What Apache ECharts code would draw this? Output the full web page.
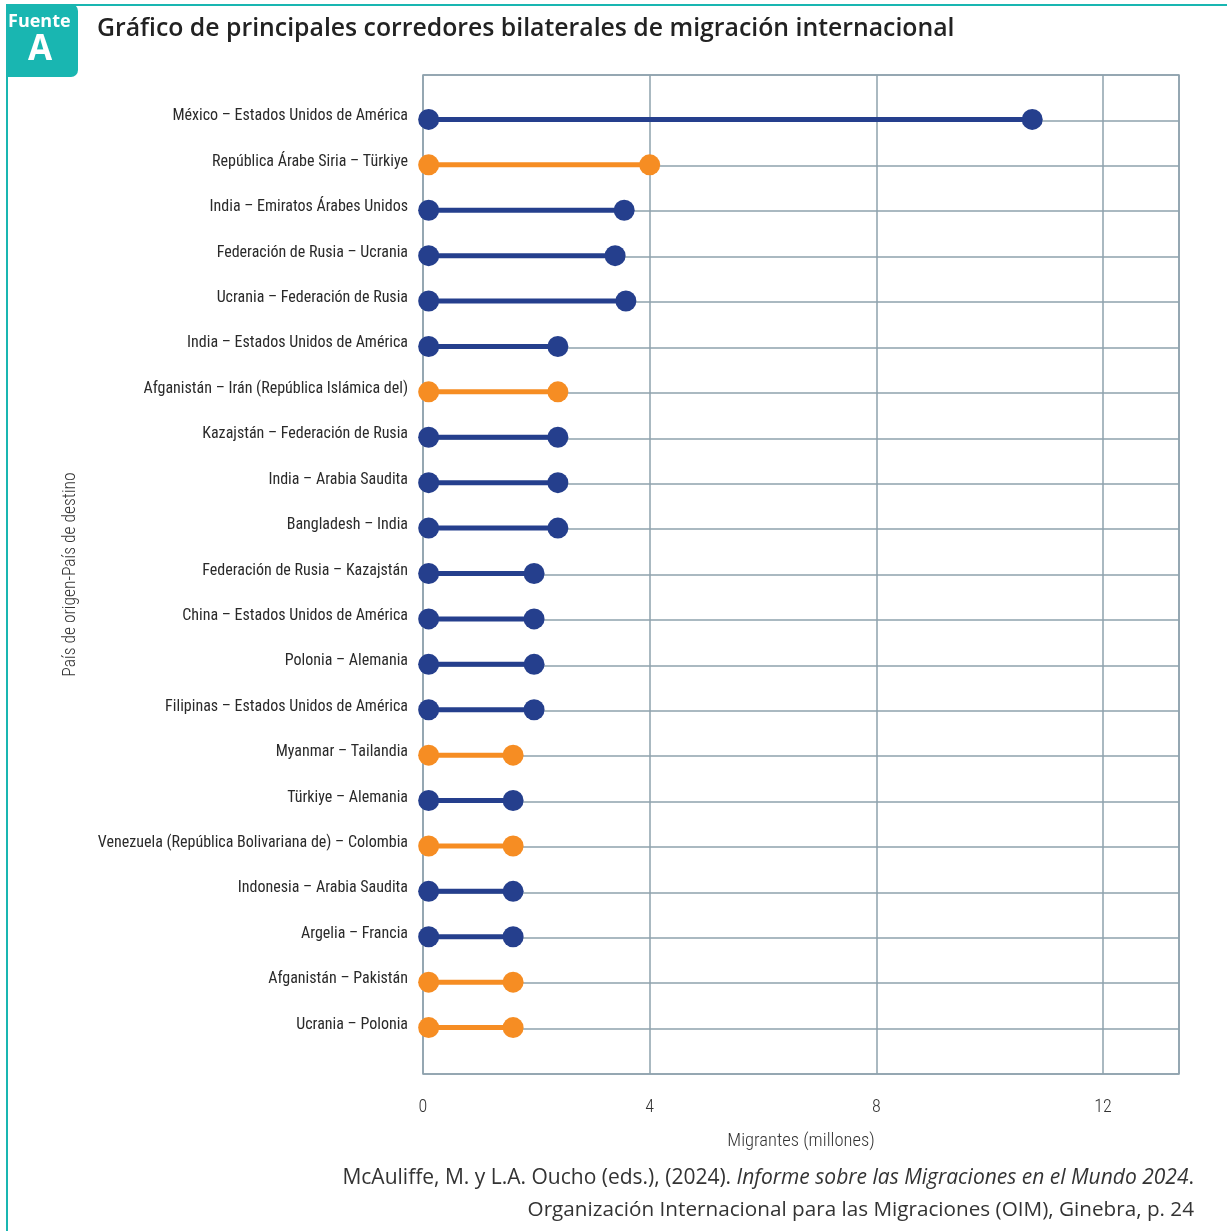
<!DOCTYPE html>
<html><head><meta charset="utf-8">
<script src="https://cdn.jsdelivr.net/npm/echarts@6/dist/echarts.min.js"></script>
<style>html,body{margin:0;padding:0;background:#fff}#c{width:1227px;height:1231px}</style>
</head><body><div id="c"></div>
<script>
const categories = [
  'México – Estados Unidos de América',
  'República Árabe Siria – Türkiye',
  'India – Emiratos Árabes Unidos',
  'Federación de Rusia – Ucrania',
  'Ucrania – Federación de Rusia',
  'India – Estados Unidos de América',
  'Afganistán – Irán (República Islámica del)',
  'Kazajstán – Federación de Rusia',
  'India – Arabia Saudita',
  'Bangladesh – India',
  'Federación de Rusia – Kazajstán',
  'China – Estados Unidos de América',
  'Polonia – Alemania',
  'Filipinas – Estados Unidos de América',
  'Myanmar – Tailandia',
  'Türkiye – Alemania',
  'Venezuela (República Bolivariana de) – Colombia',
  'Indonesia – Arabia Saudita',
  'Argelia – Francia',
  'Afganistán – Pakistán',
  'Ucrania – Polonia'
];
const startValues = [0.1,0.1,0.1,0.1,0.1,0.1,0.1,0.1,0.1,0.1,0.1,0.1,0.1,0.1,0.1,0.1,0.1,0.1,0.1,0.1,0.1];
const endValues = [10.75,4.0,3.55,3.39,3.58,2.38,2.38,2.38,2.38,2.38,1.96,1.96,1.96,1.96,1.59,1.59,1.59,1.59,1.59,1.59,1.59];
const groups = ['n','o','n','n','n','n','o','n','n','n','n','n','n','n','o','n','o','n','n','o','o'];
const xTicks = [0,4,8,12];

const NAVY = '#253f8d', ORANGE = '#f68d23', GRID = '#8ea2ad', TEAL = '#19b6b1';
const LBL = '"Roboto Condensed", "Liberation Sans Narrow", "DejaVu Sans Condensed", Roboto, sans-serif';
const yCats = [''].concat(categories).concat(['']);
const data = categories.map((c,i)=>[i+1, startValues[i], endValues[i], groups[i]==='o'?1:0]);

const chart = echarts.init(document.getElementById('c'));
chart.setOption({
  animation:false,
  backgroundColor:'#fff',
  grid:{left:423,right:48,top:75,bottom:157,show:true,borderColor:GRID,borderWidth:1.5,containLabel:false},
  xAxis:{type:'value',min:0,max:13.34,interval:4,
    axisLine:{show:false},axisTick:{show:false},
    splitLine:{show:true,lineStyle:{color:GRID,width:1.5}},
    axisLabel:{color:'#333',fontSize:18,fontWeight:300,margin:24,fontFamily:LBL,
      formatter:v=>xTicks.indexOf(v)>=0?String(v):''},
    name:'Migrantes (millones)',nameLocation:'middle',nameGap:58,nameMoveOverlap:false,
    nameTextStyle:{color:'#333',fontSize:18.5,fontWeight:300,fontFamily:LBL}},
  yAxis:{type:'category',data:yCats,inverse:true,boundaryGap:false,
    axisLine:{show:false},axisTick:{show:false},
    splitLine:{show:true,lineStyle:{color:GRID,width:1.5}},
    axisLabel:{margin:15,interval:0,
      formatter:v=>v?'{a|'+v+'}':'',
      rich:{a:{color:'#2a2a2a',fontSize:16,fontWeight:400,fontFamily:LBL,padding:[0,0,8,0]}}},
    name:'País de origen-País de destino',nameLocation:'middle',nameGap:343,nameRotate:90,nameMoveOverlap:false,
    nameTextStyle:{color:'#333',fontSize:17.5,fontWeight:300,fontFamily:LBL}},
  series:[{
    type:'custom',
    data:data,
    encode:{y:0,x:[1,2]},
    renderItem:function(params,api){
      const idx = api.value(0);
      const p0 = api.coord([api.value(1), idx]);
      const p1 = api.coord([api.value(2), idx]);
      const col = api.value(3)===1?ORANGE:NAVY;
      const y = p0[1]-1;
      return {type:'group',children:[
        {type:'line',shape:{x1:p0[0],y1:y,x2:p1[0],y2:y},style:{stroke:col,lineWidth:5}},
        {type:'circle',shape:{cx:p0[0],cy:y,r:10.5},style:{fill:col}},
        {type:'circle',shape:{cx:p1[0],cy:y,r:10.5},style:{fill:col}}
      ]};
    }
  }],
  graphic:[
    {type:'line',shape:{x1:7,y1:5,x2:1227,y2:5},style:{stroke:TEAL,lineWidth:2}},
    {type:'line',shape:{x1:7,y1:5,x2:7,y2:1231},style:{stroke:TEAL,lineWidth:2}},
    {type:'rect',shape:{x:6,y:4,width:72,height:73,r:[0,7,7,0]},style:{fill:TEAL}},
    {type:'text',left:8,top:13,style:{text:'Fuente',fill:'#fff',font:'bold 18px "Open Sans", sans-serif'}},
    {type:'text',left:28,top:33,style:{text:'A',fill:'#fff',font:'bold 35px "Open Sans", sans-serif'}},
    {type:'text',left:97,top:16,style:{text:'Gráfico de principales corredores bilaterales de migración internacional',fill:'#222',font:'600 24.8px "Open Sans", sans-serif'}},
    {type:'text',right:33,top:1168,style:{rich:{n:{fontSize:21,fontFamily:'"Open Sans", sans-serif',fill:'#333'},i:{fontSize:21,fontStyle:'italic',fontFamily:'"Open Sans", sans-serif',fill:'#333'}},text:'{n|McAuliffe, M. y L.A. Oucho (eds.), (2024). }{i|Informe sobre las Migraciones en el Mundo 2024}{n|.}',align:'right'}},
    {type:'text',right:33,top:1200,style:{text:'Organización Internacional para las Migraciones (OIM), Ginebra, p. 24',fill:'#333',font:'20.7px "Open Sans", sans-serif',align:'right'}}
  ]
});
</script></body></html>
